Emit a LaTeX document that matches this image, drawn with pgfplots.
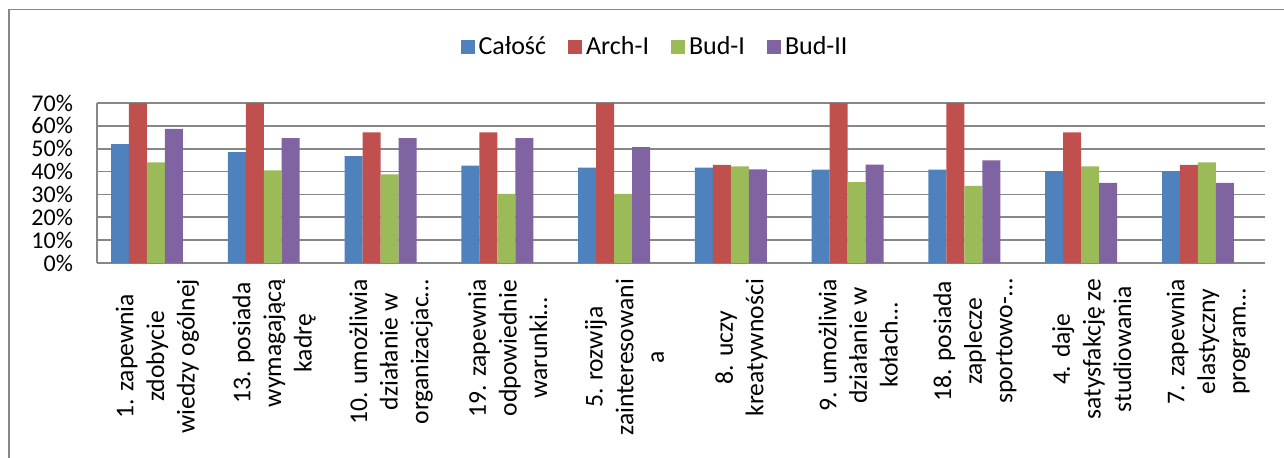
\documentclass[border=0pt]{standalone}
\usepackage{pgfplots}
\pgfplotsset{compat=1.18}
\usepackage{fontspec}
\setmainfont{Carlito}

\definecolor{sBlue}{HTML}{4F81BD}
\definecolor{sRed}{HTML}{C0504D}
\definecolor{sGreen}{HTML}{9BBB59}
\definecolor{sPurple}{HTML}{8064A2}
\definecolor{gridGray}{HTML}{878787}

\begin{document}
\begin{tikzpicture}[font=\fontsize{12}{14.7}\selectfont]
    \useasboundingbox (0,0) rectangle (642pt,228.5pt);
    % outer chart frame (cut off at right and bottom in the original)
    \draw[gridGray, line width=0.75pt] (4.5pt,-2pt) -- (4.5pt,223.75pt) -- (650pt,223.75pt);
    \begin{axis}[
        at={(48.5pt,97pt)}, anchor=south west,
        scale only axis, width=584pt, height=80pt,
        ybar=0pt, bar width=0.154,
        xmin=-0.428, xmax=9.574,
        ymin=0, ymax=70,
        ytick={0,10,...,70},
        yticklabel={\pgfmathprintnumber{\tick}\%},
        /pgf/number format/assume math mode=true,
        yticklabel style={xshift=-8.5pt},
        xtick={0.09,1.09,2.09,3.09,4.09,5.09,6.09,7.09,8.09,9.09},
        xticklabels={
            {1. zapewnia\\zdobycie\\wiedzy ogólnej},
            {13. posiada\\wymagającą\\kadrę},
            {10. umożliwia\\działanie w\\organizacjac…},
            {19. zapewnia\\odpowiednie\\warunki…},
            {5. rozwija\\zainteresowani\\a},
            {8. uczy\\kreatywności},
            {9. umożliwia\\działanie w\\kołach…},
            {18. posiada\\zaplecze\\sportowo-…},
            {4. daje\\satysfakcję ze\\studiowania},
            {7. zapewnia\\elastyczny\\program…}},
        xticklabel style={rotate=90, anchor=east, align=center,
            font=\fontsize{12.8}{15.3}\selectfont},
        xticklabel shift=4.5pt,
        axis lines=left,
        axis line style={-, draw=gridGray, line width=0.8pt},
        major tick length=0pt,
        ymajorgrids,
        grid style={draw=gridGray, line width=0.8pt},
        legend style={at={(0.4786,1.35)}, anchor=center, draw=none,
            font=\fontsize{13}{16}\selectfont,
            /tikz/every even column/.append style={column sep=9pt}},
        legend columns=-1,
        legend image code/.code={\fill[#1] (0pt,-3.5pt) rectangle (7pt,3.5pt);},
    ]
        \addplot[fill=sBlue, draw=none] coordinates {
            (0,52.0) (1,48.5) (2,46.8) (3,42.6) (4,41.7)
            (5,41.7) (6,40.8) (7,40.8) (8,40.2) (9,40.2)};
        \addplot[fill=sRed, draw=none] coordinates {
            (0,71.4) (1,71.4) (2,57.1) (3,57.1) (4,71.4)
            (5,42.9) (6,71.4) (7,71.4) (8,57.1) (9,42.9)};
        \addplot[fill=sGreen, draw=none] coordinates {
            (0,44.0) (1,40.5) (2,38.8) (3,30.2) (4,30.2)
            (5,42.3) (6,35.4) (7,33.7) (8,42.3) (9,44.0)};
        \addplot[fill=sPurple, draw=none] coordinates {
            (0,58.7) (1,54.6) (2,54.6) (3,54.6) (4,50.7)
            (5,41.0) (6,43.0) (7,44.9) (8,35.1) (9,35.1)};
        \legend{Całość, Arch-I, Bud-I, Bud-II}
    \end{axis}
\end{tikzpicture}
\end{document}
